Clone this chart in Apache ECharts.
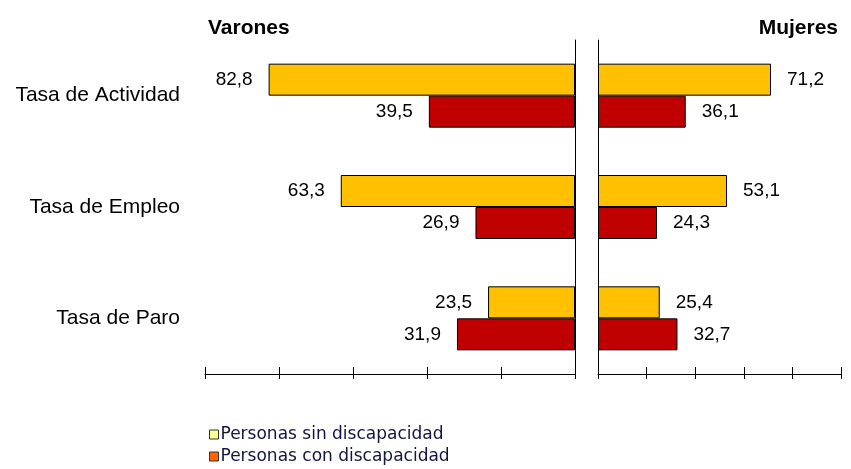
<!DOCTYPE html>
<html lang="es">
<head>
    <meta charset="utf-8">
    <title>Tasas por sexo y discapacidad</title>
    <script src="https://cdn.jsdelivr.net/npm/echarts@6/dist/echarts.min.js"></script>
    <style>
        html, body { margin: 0; padding: 0; background: #fff; }
        #main { width: 851px; height: 469px; }
    </style>
</head>
<body>
    <div id="main"></div>
    <script type="text/javascript">
        // data
        var categories = ['Tasa de Actividad', 'Tasa de Empleo', 'Tasa de Paro'];
        var seriesNames = ['Personas sin discapacidad', 'Personas con discapacidad'];
        var varonesSin = [82.8, 63.3, 23.5];
        var varonesCon = [39.5, 26.9, 31.9];
        var mujeresSin = [71.2, 53.1, 25.4];
        var mujeresCon = [36.1, 24.3, 32.7];

        var barColors = ['#FFC000', '#C00000'];
        var legendColors = ['#FFFF99', '#FF6600'];

        function fmt(p) {
            return String(p.value).replace('.', ',');
        }

        // one axis draws the line, a second one (shifted up) draws ticks crossing it
        function valueAxis(gridIndex, inverse, ticksOnly) {
            return {
                type: 'value',
                gridIndex: gridIndex,
                inverse: inverse,
                min: 0,
                max: 100,
                interval: 20,
                position: 'bottom',
                offset: ticksOnly ? -7 : 0,
                axisLine: { show: !ticksOnly, lineStyle: { color: '#000', width: 1 } },
                axisTick: { show: ticksOnly, inside: false, length: 12, lineStyle: { color: '#000', width: 1 } },
                axisLabel: { show: false },
                splitLine: { show: false }
            };
        }

        function barSeries(name, data, color, xi, yi, pos) {
            return {
                name: name,
                type: 'bar',
                xAxisIndex: xi,
                yAxisIndex: yi,
                data: data,
                barWidth: 32,
                barGap: '0%',
                itemStyle: { color: color, borderColor: '#000', borderWidth: 1 },
                label: {
                    show: true,
                    position: pos,
                    distance: 16,
                    formatter: fmt,
                    color: '#000',
                    fontFamily: 'Liberation Sans, Arial',
                    fontSize: 19
                }
            };
        }

        function legendItem(i, top) {
            return {
                orient: 'vertical',
                left: 204,
                top: top,
                itemWidth: 9,
                itemHeight: 9,
                icon: 'rect',
                textStyle: { fontFamily: 'DejaVu Sans', fontSize: 17, color: '#141440', padding: [0, 0, 0, -3] },
                data: [
                    { name: seriesNames[i], itemStyle: { color: legendColors[i], borderColor: '#333', borderWidth: 1 } }
                ]
            };
        }

        var myChart = echarts.init(document.getElementById('main'));
        myChart.setOption({
            animation: false,
            title: [
                {
                    text: 'Varones',
                    left: 203,
                    top: 13,
                    textStyle: { fontFamily: 'Liberation Sans, Arial', fontWeight: 'bold', fontSize: 21, color: '#000' }
                },
                {
                    text: 'Mujeres',
                    right: 8,
                    top: 13,
                    textStyle: { fontFamily: 'Liberation Sans, Arial', fontWeight: 'bold', fontSize: 21, color: '#000' }
                }
            ],
            legend: [legendItem(0, 421), legendItem(1, 443)],
            grid: [
                { left: 205, width: 370, top: 40, height: 334 },
                { left: 598, width: 243, top: 40, height: 334 }
            ],
            xAxis: [
                valueAxis(0, true, false),
                valueAxis(0, true, true),
                valueAxis(1, false, false),
                valueAxis(1, false, true)
            ],
            yAxis: [
                {
                    type: 'category',
                    gridIndex: 0,
                    data: categories,
                    inverse: true,
                    position: 'right',
                    axisLine: { show: true, lineStyle: { color: '#000', width: 1 } },
                    axisTick: { show: false },
                    axisLabel: { show: false }
                },
                {
                    type: 'category',
                    gridIndex: 0,
                    data: categories,
                    inverse: true,
                    position: 'left',
                    axisLine: { show: false },
                    axisTick: { show: false },
                    axisLabel: {
                        margin: 25,
                        fontFamily: 'Liberation Sans, Arial',
                        fontSize: 21,
                        color: '#000'
                    }
                },
                {
                    type: 'category',
                    gridIndex: 1,
                    data: categories,
                    inverse: true,
                    position: 'left',
                    axisLine: { show: true, lineStyle: { color: '#000', width: 1 } },
                    axisTick: { show: false },
                    axisLabel: { show: false }
                }
            ],
            series: [
                barSeries(seriesNames[0], varonesSin, barColors[0], 0, 0, 'left'),
                barSeries(seriesNames[1], varonesCon, barColors[1], 0, 0, 'left'),
                barSeries(seriesNames[0], mujeresSin, barColors[0], 2, 2, 'right'),
                barSeries(seriesNames[1], mujeresCon, barColors[1], 2, 2, 'right')
            ]
        });
    </script>
</body>
</html>
